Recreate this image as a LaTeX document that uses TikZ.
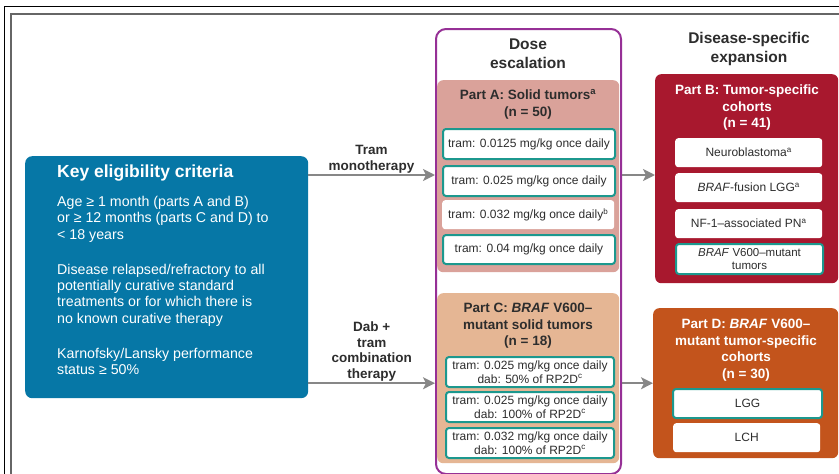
\documentclass[tikz,border=0pt]{standalone}
\usepackage{fontspec}
\setmainfont{Liberation Sans}
\usetikzlibrary{arrows.meta}

\definecolor{keyblue}{RGB}{6,119,166}
\definecolor{escpurple}{RGB}{150,48,150}
\definecolor{partapink}{RGB}{218,162,154}
\definecolor{partbred}{RGB}{168,24,46}
\definecolor{partcpeach}{RGB}{229,182,148}
\definecolor{partdorange}{RGB}{195,84,28}
\definecolor{boxteal}{RGB}{28,152,142}
\definecolor{flowgray}{RGB}{135,135,135}
\definecolor{textdark}{RGB}{45,45,45}

\tikzset{
	panel/.style={anchor=north west, inner sep=0pt, rounded corners=6pt},
	cellbox/.style={
		anchor=north west, inner sep=0pt, fill=white, rounded corners=3pt,
		text=textdark, align=center,
		font=\fontsize{12}{13.5}\selectfont
	},
	tealcell/.style={cellbox, draw=boxteal, line width=2pt},
	parthead/.style={
		anchor=north, inner sep=0pt, align=center,
		font=\bfseries\fontsize{13.5}{16.5}\selectfont
	},
	colhead/.style={
		anchor=north, inner sep=0pt, align=center, text=textdark,
		font=\bfseries\fontsize{15.5}{19}\selectfont
	},
	flow/.style={
		draw=flowgray, line width=2pt,
		-{Stealth[length=12pt,width=12pt,inset=3pt]}
	},
	flowlabel/.style={
		above, inner sep=1pt, align=center, text=textdark,
		font=\bfseries\fontsize{13.5}{15.5}\selectfont
	}
}

\begin{document}
\begin{tikzpicture}[x=1pt,y=-1pt]
	\useasboundingbox (0,0) rectangle (839,474);
	\draw[black, line width=1pt] (4,474) -- (4,6) -- (839,6);
	\draw[black!60, line width=1.6pt] (11,474) -- (11,14) -- (839,14);

	\node[
		panel, fill=keyblue, rounded corners=7pt,
		minimum width=283, minimum height=242
	](key) at (25,156){};
	\node[
		anchor=north west, inner sep=0pt, text=white,
		font=\bfseries\fontsize{17.5}{20}\selectfont
	](keyhead) at (57,165){Key eligibility criteria};
	\node[
		anchor=north west, inner sep=0pt, text=white, align=left,
		font=\fontsize{14.2}{16.3}\selectfont
	](keybody) at (57,196){Age ≥ 1 month (parts A and B)\\or ≥ 12 months (parts C and D) to\\< 18 years\\[19pt]Disease relapsed/refractory to all\\potentially curative standard\\treatments or for which there is\\no known curative therapy\\[19pt]Karnofsky/Lansky performance\\status ≥ 50\%};

	\node[
		panel, draw=escpurple, fill=white, line width=2pt, rounded corners=10pt,
		minimum width=185, minimum height=445
	](esc) at (435,28){};
	\node[colhead](eschead) at (528,39){Dose\\escalation};
	\node[colhead](exphead) at (749,32){Disease-specific\\expansion};

	\node[
		panel, fill=partapink,
		minimum width=182, minimum height=192
	](parta) at (437,80){};
	\node[parthead, text=textdark](partahead) at (528,89){Part A: Solid tumors\textsuperscript{a}\\(n = 50)};
	\node[tealcell, minimum width=172, minimum height=30](a1) at (442,128){tram: 0.0125 mg/kg once daily};
	\node[tealcell, minimum width=172, minimum height=30](a2) at (442,165){tram: 0.025 mg/kg once daily};
	\node[cellbox, minimum width=172, minimum height=29](a3) at (442,200){tram: 0.032 mg/kg once daily\textsuperscript{b}};
	\node[tealcell, minimum width=172, minimum height=29](a4) at (442,234){tram: 0.04 mg/kg once daily};

	\node[
		panel, fill=partcpeach,
		minimum width=182, minimum height=170
	](partc) at (437,293){};
	\node[parthead, text=textdark](partchead) at (528,303){Part C: \textit{BRAF} V600–\\mutant solid tumors\\(n = 18)};
	\node[tealcell, minimum width=168, minimum height=30](c1) at (445,356){tram: 0.025 mg/kg once daily\\dab: 50\% of RP2D\textsuperscript{c}};
	\node[tealcell, minimum width=168, minimum height=30](c2) at (445,391){tram: 0.025 mg/kg once daily\\dab: 100\% of RP2D\textsuperscript{c}};
	\node[tealcell, minimum width=168, minimum height=30](c3) at (445,427){tram: 0.032 mg/kg once daily\\dab: 100\% of RP2D\textsuperscript{c}};

	\node[
		panel, fill=partbred,
		minimum width=183, minimum height=209
	](partb) at (655,74){};
	\node[parthead, text=white](partbhead) at (747,85){Part B: Tumor-specific\\cohorts\\(n = 41)};
	\node[cellbox, minimum width=147, minimum height=29](b1) at (675,138){Neuroblastoma\textsuperscript{a}};
	\node[cellbox, minimum width=147, minimum height=29](b2) at (675,173){\textit{BRAF}-fusion LGG\textsuperscript{a}};
	\node[cellbox, minimum width=147, minimum height=29](b3) at (675,209){NF-1–associated PN\textsuperscript{a}};
	\node[tealcell, minimum width=147, minimum height=30, font=\fontsize{11.5}{13}\selectfont](b4) at (675,243){\textit{BRAF} V600–mutant\\tumors};

	\node[
		panel, fill=partdorange,
		minimum width=185, minimum height=150
	](partd) at (653,308){};
	\node[parthead, text=white](partdhead) at (746,319){Part D: \textit{BRAF} V600–\\mutant tumor-specific\\cohorts\\(n = 30)};
	\node[tealcell, minimum width=149, minimum height=29](d1) at (672,388){LGG};
	\node[cellbox, minimum width=147, minimum height=29](d2) at (673,423){LCH};

	\coordinate (mono) at (308,175);
	\draw[flow] (mono) -- node[flowlabel]{Tram\\monotherapy} (mono -| esc.west);
	\draw[flow] (key.east |- partd.west) -- node[flowlabel]{Dab +\\tram\\combination\\therapy} (esc.west |- partd.west);
	\draw[flow] (esc.east |- mono) -- (partb.west |- mono);
	\draw[flow] (esc.east |- partd.west) -- (partd.west);
\end{tikzpicture}
\end{document}
